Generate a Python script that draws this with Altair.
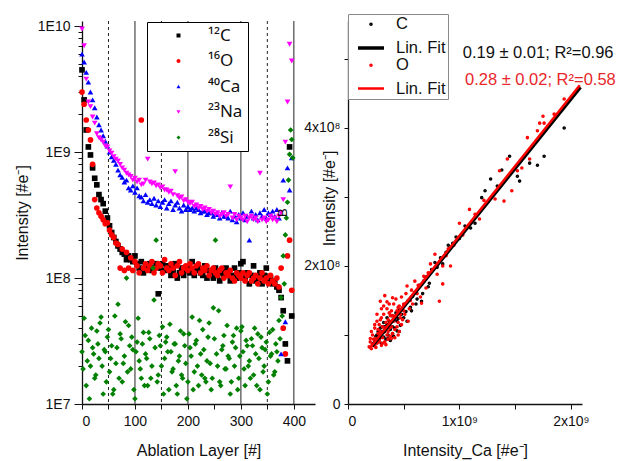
import altair as alt
import pandas as pd

FONT = "Liberation Sans"
SUPFONT = "Noto Sans"

# ---------------- left panel data (values in units of 1e7) ----------------
layers_a = list(range(0, 400, 4))
layers_b = list(range(2, 400, 4))

c12 = [450, 260, 150, 110, 95, 75, 62, 55, 46, 42,
       39, 34, 30, 26, 23, 21, 19.5, 18, 17, 16,
       15.5, 14, 15, 14, 13.5, 15, 13, 12, 13.5, 11,
       12.5, 12, 13, 11.5, 12, 13, 7.5, 12, 13, 11.5,
       12.5, 12, 10.5, 11.5, 13, 10, 11, 12, 10.5, 11.5,
       12, 11, 13.5, 10.5, 11.5, 12, 11, 10.5, 12.5, 10,
       11.5, 11, 10, 12, 10.5, 9.5, 11, 10.5, 12, 11,
       9.5, 10.5, 12, 10, 11, 13, 13.5, 10, 11, 9,
       10.5, 12.5, 9.5, 10, 11, 9, 10.5, 12, 9.5, 10,
       9, 9.5, 8.5, 8, 7, 5.5, 3, 2.2, 110, 5]

o16 = [300, 240, 180, 150, 125, 80, 42, 36, 33, 31,
       29, 27, 27.5, 24, 22, 21, 19, 18.5, 12, 17,
       11.5, 16, 12, 14.5, 11.5, 13.5, 12.5, 11, 180, 12,
       13, 11.5, 12.5, 13.5, 11, 12, 13, 12.5, 11, 14,
       12, 11.5, 13, 12, 10.5, 12.5, 13.5, 11, 12, 12.5,
       11.5, 13, 12, 11, 12.5, 13, 11, 12, 11.5, 12.5,
       10.5, 11.5, 12, 11, 10.5, 11.5, 12, 10, 11, 10.5,
       11.5, 10, 9.5, 11, 10.5, 10, 11, 9.5, 10.5, 11,
       9.5, 10, 10.5, 9, 10, 11, 9.5, 10, 9, 10.5,
       9.5, 9, 10, 8.5, 12, 4, 2.5, 15, 20, 8]

ca40 = [600, 520, 430, 360, 300, 260, 225, 190, 165, 150,
        135, 122, 112, 100, 92, 86, 80, 72, 66, 63,
        58, 60, 52, 50, 54, 48, 52, 45, 44, 41,
        46, 40, 42, 39, 43, 38, 41, 37, 40, 42,
        36, 39, 41, 35, 38, 40, 36, 34, 38, 35,
        37, 35, 36, 34, 36, 35, 33, 34, 34, 32,
        33, 33, 31, 32, 32, 30, 33, 31, 31, 30,
        34, 29, 31, 28, 32, 30, 33, 29, 31, 20,
        34, 30, 32, 29, 33, 31, 35, 30, 33, 32,
        34, 31, 35, 30, 2.5, 60, 4.5, 75, 50, 90]

na23 = [950, 700, 380, 250, 230, 190, 170, 140, 130, 125,
        120, 112, 110, 102, 98, 92, 88, 85, 80, 75,
        72, 68, 66, 64, 60, 62, 58, 60, 55, 56,
        60, 88, 58, 56, 57, 54, 55, 52, 53, 50,
        50, 48, 49, 46, 70, 45, 43, 44, 41, 42,
        40, 39, 40, 37, 38, 36, 37, 35, 36, 34,
        35, 33, 34, 32, 33, 31, 32, 33, 31, 32,
        53, 30, 32, 29, 31, 30, 29, 31, 28, 30,
        31, 29, 30, 28, 68, 29, 30, 28, 29, 31,
        29, 30, 28, 31, 33, 42, 120, 250, 720, 530]

si28_a = [2.6, 4.8, 1.4, 3.2, 2.0, 2.8, 1.6, 3.8, 2.3, 4.9,
          1.2, 2.6, 3.4, 1.8, 2.9, 1.3, 2.1, 6.2, 3.6, 1.5,
          2.4, 10, 4.2, 1.9, 2.7, 1.1, 3.1, 2.2, 1.6, 3.7,
          2.5, 1.4, 3.3, 2.0, 6.7, 20, 1.7, 2.9, 4.1, 2.3,
          3.4, 1.3, 2.6, 1.9, 3.0, 1.2, 2.4, 1.7, 3.6, 2.1,
          1.5, 2.8, 4.9, 1.8, 3.2, 1.4, 2.5, 3.9, 1.6, 2.2,
          4.4, 1.3, 5.8, 20, 2.0, 1.5, 2.7, 3.5, 1.9, 2.4,
          1.2, 3.1, 2.0, 4.0, 1.6, 3.8, 2.6, 1.4, 2.9, 2.2,
          3.3, 1.7, 2.5, 3.6, 1.3, 2.8, 2.0, 3.1, 1.5, 2.4,
          3.9, 1.8, 2.6, 4.6, 7, 15, 22, 40, 96, 126]

si28_b = [1.9, 3.5, 2.2, 1.1, 4.0, 2.5, 1.7, 3.0, 4.4, 2.0,
          2.7, 1.5, 3.9, 2.3, 1.2, 5.0, 2.8, 1.6, 3.3, 2.1,
          4.5, 1.8, 2.9, 3.4, 1.3, 2.6, 4.8, 1.9, 3.0, 1.4,
          2.3, 3.7, 1.6, 12, 2.8, 1.5, 3.5, 2.0, 1.2, 3.1,
          2.6, 4.3, 1.8, 3.0, 1.4, 2.2, 3.8, 1.6, 2.9, 1.1,
          3.6, 2.4, 1.3, 3.0, 2.0, 4.6, 1.7, 2.7, 1.5, 3.4,
          2.1, 1.6, 3.3, 2.5, 5.5, 1.4, 2.9, 1.9, 4.2, 2.3,
          1.5, 3.5, 2.8, 1.3, 2.4, 4.1, 1.9, 3.2, 2.0, 1.6,
          2.9, 4.0, 1.4, 2.3, 3.4, 1.8, 2.7, 1.2, 3.7, 2.5,
          1.7, 3.0, 2.2, 3.3, 5, 9, 30, 60, 150, 90]

series_names = ["¹²C", "¹⁶O", "⁴⁰Ca", "²³Na", "²⁸Si"]
series_colors = ["#000000", "#ff0000", "#0000ff", "#ff00ff", "#008000"]
series_shapes = ["square", "circle", "triangle-up", "triangle-down", "diamond"]

solid_layers = [100, 200, 300, 400]
dashed_layers = [50, 150, 350]

# ---------------- right panel data (Ca in 1e9, C/O in 1e8) ----------------
ca_c = [0.22, 0.24, 0.25, 0.26, 0.27, 0.28, 0.29, 0.30, 0.30, 0.31,
        0.32, 0.32, 0.33, 0.34, 0.35, 0.35, 0.36, 0.37, 0.38, 0.38,
        0.39, 0.40, 0.41, 0.42, 0.43, 0.44, 0.45, 0.46, 0.47, 0.48,
        0.50, 0.52, 0.54, 0.56, 0.58, 0.60, 0.62, 0.64, 0.66, 0.68,
        0.70, 0.72, 0.75, 0.78, 0.80, 0.83, 0.85, 0.88, 0.90, 0.94,
        0.97, 1.00, 1.05, 1.10, 1.14, 1.20, 1.23, 1.28, 1.34, 1.38,
        1.45, 1.52, 1.54, 1.63, 1.70, 1.76, 1.94,
        0.23, 0.26, 0.28, 0.31, 0.33, 0.36, 0.40, 0.42, 0.44, 0.46,
        0.50, 0.53, 0.57, 0.61, 0.67, 0.73]
c_int = [0.86, 0.92, 0.98, 0.90, 1.05, 0.95, 1.10, 1.02, 0.88, 1.12,
         0.97, 1.18, 1.05, 0.94, 1.15, 1.25, 1.00, 1.20, 1.08, 0.92,
         1.28, 1.12, 0.98, 1.22, 1.32, 1.06, 1.24, 1.36, 1.14, 1.30,
         1.42, 1.34, 1.50, 1.40, 1.56, 1.62, 1.52, 1.72, 1.49, 1.78,
         1.84, 1.70, 1.95, 2.05, 1.98, 2.12, 2.03, 2.20, 2.30, 2.33,
         2.42, 2.40, 2.58, 2.55, 2.62, 2.99, 3.09, 3.26, 3.16, 3.39,
         3.59, 3.30, 3.23, 3.49, 3.46, 3.59, 4.00,
         0.88, 1.00, 0.92, 1.05, 1.12, 0.95, 1.02, 1.10, 1.20, 1.05,
         1.25, 1.20, 1.35, 1.45, 1.60, 1.75]
ca_o = [0.19, 0.20, 0.21, 0.22, 0.22, 0.23, 0.24, 0.24, 0.25, 0.26,
        0.26, 0.27, 0.28, 0.28, 0.29, 0.29, 0.30, 0.30, 0.31, 0.31,
        0.32, 0.32, 0.33, 0.33, 0.34, 0.34, 0.35, 0.35, 0.36, 0.36,
        0.37, 0.37, 0.38, 0.38, 0.39, 0.39, 0.40, 0.40, 0.41, 0.42,
        0.43, 0.44, 0.45, 0.45, 0.46, 0.47, 0.48, 0.50, 0.51, 0.53,
        0.54, 0.56, 0.60, 0.62, 0.66, 0.68, 0.72, 0.74, 0.78, 0.82,
        0.85, 0.85, 0.88, 0.92, 0.95, 1.00, 1.03, 1.09, 1.14, 1.18,
        1.22, 1.32, 1.36, 1.40, 1.43, 1.47, 1.52, 1.56, 1.61, 1.63,
        1.70, 1.72, 1.75, 1.76, 1.85, 1.94,
        0.20, 0.21, 0.23, 0.24, 0.25, 0.26, 0.27, 0.28, 0.29, 0.30,
        0.31, 0.32, 0.33, 0.34, 0.35, 0.36, 0.37, 0.38, 0.39, 0.40,
        0.41, 0.42, 0.43, 0.44, 0.45, 0.46, 0.47, 0.48, 0.49, 0.50,
        0.52, 0.55, 0.57, 0.58, 0.63, 0.65, 0.70, 0.76, 0.80, 0.90]
o_int = [0.83, 0.90, 0.80, 1.00, 0.86, 0.94, 1.10, 0.84, 0.95, 1.20,
         0.88, 1.02, 1.15, 0.92, 1.49, 1.05, 0.85, 1.25, 1.12, 0.96,
         1.30, 1.04, 1.57, 0.90, 1.18, 1.08, 1.00, 1.38, 1.22, 0.94,
         1.10, 1.45, 0.98, 1.28, 1.35, 1.12, 1.54, 1.02, 1.20, 0.96,
         1.28, 1.12, 1.40, 1.18, 1.05, 1.25, 1.15, 1.45, 1.30, 1.71,
         1.20, 1.50, 1.78, 1.60, 1.46, 1.85, 1.90, 2.03, 2.17, 1.49,
         1.74, 2.00, 2.15, 2.00, 2.30, 2.62, 2.45, 2.82, 2.75, 2.68,
         2.95, 2.97, 3.38, 2.94, 3.55, 3.09, 3.38, 3.42, 3.86, 3.55,
         3.96, 4.07, 4.17, 4.07, 4.20, 4.42,
         0.95, 1.05, 0.85, 1.15, 0.82, 1.30, 1.08, 0.90, 1.22, 1.38,
         0.88, 1.42, 1.10, 0.86, 1.48, 1.05, 1.32, 1.18, 0.95, 1.28,
         1.45, 1.08, 1.52, 1.35, 1.00, 1.42, 1.30, 1.55, 1.22, 1.35,
         1.60, 1.38, 1.65, 1.45, 1.72, 1.55, 1.68, 1.95, 1.88, 2.25]

fit_c_ca = [0.216, 2.086]
fit_c_val = [0.84, 4.59]
fit_o_ca = [0.19, 2.08]
fit_o_val = [0.80, 4.62]

legend_keys = ["C", "Lin. Fit", "O", "Lin. Fit "]
annot_text = ["0.19 ± 0.01; R²=0.96", "0.28 ± 0.02; R²=0.58"]
annot_ca = [1.03, 1.05]
annot_val = [5.09, 4.70]
annot_col = ["#111111", "#e8262b"]

# ---------------- build tables ----------------
rows = []
for name, vals, lay in [(series_names[0], c12, layers_a), (series_names[1], o16, layers_a),
                        (series_names[2], ca40, layers_a), (series_names[3], na23, layers_a),
                        (series_names[4], si28_a, layers_a), (series_names[4], si28_b, layers_b)]:
    for l, v in zip(lay, vals):
        rows.append({"layer": l, "val": v * 1e7, "series": name})
left_df = pd.DataFrame(rows)

solid_df = pd.DataFrame({"layer": solid_layers})
dashed_df = pd.DataFrame({"layer": dashed_layers})
btext_df = pd.DataFrame({"layer": [379], "val": [3.3e8], "t": ["B"]})

xL = alt.X("layer:Q",
           scale=alt.Scale(domain=[0, 440], nice=False, zero=False),
           axis=alt.Axis(values=list(range(0, 401, 50)),
                         labelExpr="datum.value % 100 == 0 ? datum.label : ''",
                         title="Ablation Layer [#]", tickSize=5, labelPadding=5,
                         titleY=46, titleBaseline="middle", grid=False))
yscaleL = alt.Scale(type="log", domain=[1e7, 1.1e10], nice=False)
major_axis = alt.Axis(values=[1e7, 1e8, 1e9, 1e10],
                      labelExpr="'1E' + round(log(datum.value) / LN10)",
                      title="Intensity [#e⁻]", tickSize=8, labelPadding=4,
                      titleX=-60, titleBaseline="middle", orient="left", grid=False)
minor_vals = [m * 10 ** e for e in (7, 8, 9) for m in range(2, 10)]
minor_axis = alt.Axis(values=minor_vals, labels=False, tickSize=4, domain=False,
                      title=None, orient="left", grid=False)

rules_solid = alt.Chart(solid_df).mark_rule(color="#555555", strokeWidth=1.3).encode(x=xL)
rules_dash = alt.Chart(dashed_df).mark_rule(color="#222222", strokeWidth=1, strokeDash=[3, 3]).encode(x=xL)

lleg = alt.Legend(title=None, orient="none", legendX=65, legendY=1,
                  fillColor="white", strokeColor="black",
                  padding=5, symbolOffset=18, labelOffset=21,
                  labelFontSize=17, rowPadding=7.5, symbolSize=16,
                  labelFont=SUPFONT, labelColor="#111111")
left_points = alt.Chart(left_df).mark_point(filled=True, size=32, opacity=1).encode(
    x=xL,
    y=alt.Y("val:Q", scale=yscaleL, axis=major_axis),
    color=alt.Color("series:N", scale=alt.Scale(domain=series_names, range=series_colors), legend=lleg),
    shape=alt.Shape("series:N", scale=alt.Scale(domain=series_names, range=series_shapes), legend=lleg),
)

btext = alt.Chart(btext_df).mark_text(angle=270, fontSize=13, font=FONT, color="#111111").encode(
    x=xL,
    y=alt.Y("val:Q", scale=yscaleL, axis=minor_axis),
    text="t:N",
)

left = alt.layer(rules_solid, rules_dash, left_points, btext).resolve_axis(y="independent").properties(
    width=233, height=383)

# ---------------- right panel ----------------
rp = []
for a, v in zip(ca_c, c_int):
    rp.append({"ca": a * 1e9, "v": v * 1e8, "key": "C"})
for a, v in zip(ca_o, o_int):
    rp.append({"ca": a * 1e9, "v": v * 1e8, "key": "O"})
right_df = pd.DataFrame(rp)
fitc_df = pd.DataFrame({"ca": [a * 1e9 for a in fit_c_ca], "v": [v * 1e8 for v in fit_c_val]})
fito_df = pd.DataFrame({"ca": [a * 1e9 for a in fit_o_ca], "v": [v * 1e8 for v in fit_o_val]})
annot_df = pd.DataFrame({"ca": [a * 1e9 for a in annot_ca], "v": [v * 1e8 for v in annot_val],
                         "t": annot_text, "col": annot_col})

xR = alt.X("ca:Q", scale=alt.Scale(domain=[0, 2.1e9], nice=False),
           axis=alt.Axis(values=[0, 5e8, 1e9, 1.5e9, 2e9],
                         labelExpr="datum.value == 0 ? '0' : (datum.value == 1000000000 ? '1x10⁹' : (datum.value == 2000000000 ? '2x10⁹' : ''))",
                         title="Intensity_Ca [#e⁻]", tickSize=5, labelPadding=5,
                         titleY=46, titleBaseline="middle", grid=False))
yR = alt.Y("v:Q", scale=alt.Scale(domain=[0, 5.55e8], nice=False),
           axis=alt.Axis(values=[0, 1e8, 2e8, 3e8, 4e8, 5e8],
                         labelExpr="datum.value == 0 ? '0' : (datum.value == 200000000 ? '2x10⁸' : (datum.value == 400000000 ? '4x10⁸' : ''))",
                         title="Intensity [#e⁻]", tickSize=4, labelPadding=4,
                         titleX=-19, titleY=177, titleBaseline="middle", grid=False))

rleg = alt.Legend(title=None, orient="none", legendX=0, legendY=-7, fillColor="white",
                  strokeColor="#8a8a8a", padding=2, symbolOffset=6, labelOffset=10,
                  labelFontSize=16.5, rowPadding=0, labelFont=FONT, labelColor="#111111",
                  labelLimit=200)
right_points = alt.Chart(right_df).mark_point(filled=False, opacity=1).encode(
    x=xR, y=yR,
    color=alt.Color("key:N", scale=alt.Scale(domain=legend_keys,
                                             range=["#000000", "#000000", "#ff0000", "#ff0000"]),
                    legend=rleg),
    shape=alt.Shape("key:N", scale=alt.Scale(domain=legend_keys,
                                             range=["circle", "stroke", "circle", "stroke"]),
                    legend=rleg),
    size=alt.Size("key:N", scale=alt.Scale(type="ordinal", domain=legend_keys, range=[4, 676, 4, 676]),
                  legend=rleg),
    strokeWidth=alt.StrokeWidth("key:N", scale=alt.Scale(type="ordinal", domain=legend_keys,
                                                         range=[1.6, 3.5, 1.6, 2.5]),
                                legend=rleg),
)
line_c = alt.Chart(fitc_df).mark_line(color="#000000", strokeWidth=3.5).encode(x=xR, y=yR)
line_o = alt.Chart(fito_df).mark_line(color="#ff0000", strokeWidth=2.5).encode(x=xR, y=yR)
annot = alt.Chart(annot_df).mark_text(align="left", baseline="middle", fontSize=16.5, font=FONT).encode(
    x=xR, y=yR, text="t:N", color=alt.Color("col:N", scale=None))

right = alt.layer(right_points, line_c, line_o, annot).properties(width=234, height=383)

chart = alt.hconcat(left, right, spacing=33, bounds="flush").resolve_scale(
    color="independent", shape="independent", size="independent", strokeWidth="independent"
).properties(
    padding={"left": 6, "top": 5, "right": 0, "bottom": 30}
).configure_view(stroke=None).configure_axis(
    labelFont=FONT, titleFont=FONT, labelFontSize=14, titleFontSize=16,
    labelColor="#111111", titleColor="#111111", domainColor="#111111", tickColor="#111111",
    titleFontWeight="normal", domainWidth=1.3
).configure_legend(labelFont=FONT)

chart.save("out.html", embed_options={"renderer": "svg", "actions": False})
